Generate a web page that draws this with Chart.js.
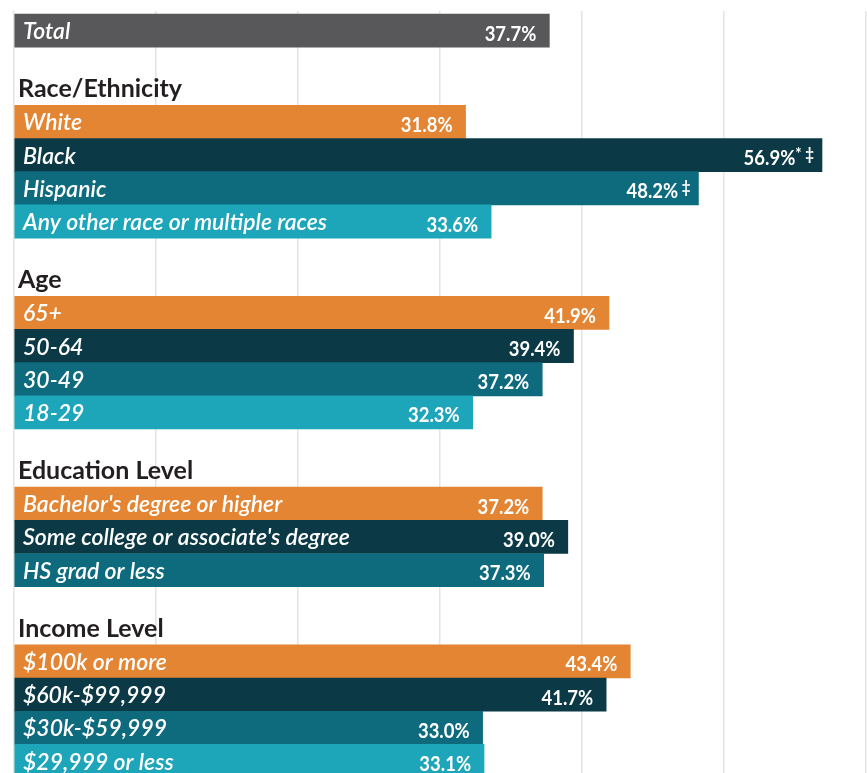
<!DOCTYPE html>
<html><head><meta charset="utf-8">
<script src="https://cdn.jsdelivr.net/npm/chart.js@4.4.1/dist/chart.umd.min.js"></script>
<style>html,body{margin:0;padding:0;background:#fff;}canvas{display:block}</style>
</head><body>
<canvas id="c" width="867" height="773"></canvas>
<script>
// ---- data ----
const groupTitles = ["", "Race/Ethnicity", "Age", "Education Level", "Income Level"];

const totalLabels = ["Total"];
const totalValues = [37.7];
const totalNotes  = [""];

const raceLabels = ["White", "Black", "Hispanic", "Any other race or multiple races"];
const raceValues = [31.8, 56.9, 48.2, 33.6];
const raceNotes  = ["", "* \u2021", " \u2021", ""];

const ageLabels = ["65+", "50-64", "30-49", "18-29"];
const ageValues = [41.9, 39.4, 37.2, 32.3];
const ageNotes  = ["", "", "", ""];

const eduLabels = ["Bachelor's degree or higher", "Some college or associate's degree", "HS grad or less"];
const eduValues = [37.2, 39.0, 37.3];
const eduNotes  = ["", "", ""];

const incomeLabels = ["$100k or more", "$60k-$99,999", "$30k-$59,999", "$29,999 or less"];
const incomeValues = [43.4, 41.7, 33.0, 33.1];
const incomeNotes  = ["", "", "", ""];

// ---- styles ----
const TOTAL_COLOR = "#58585a";
const PALETTE = ["#e38533", "#0b3945", "#0e6a7d", "#1da5b9"];
const GROUP_GAP = 1.75;
const HEADER_FONT = "bold 25px Lato";
const LABEL_FONT = "italic 600 23px Lato";
const VALUE_FONT = "bold 21px Lato";
const NOTE_FONT = "bold 17px Lato";
const VALUE_SCALE = 0.88;

const groups = [
  {labels: totalLabels, values: totalValues, notes: totalNotes},
  {labels: raceLabels, values: raceValues, notes: raceNotes},
  {labels: ageLabels, values: ageValues, notes: ageNotes},
  {labels: eduLabels, values: eduValues, notes: eduNotes},
  {labels: incomeLabels, values: incomeValues, notes: incomeNotes}
];

const points = [], colors = [], rowInfo = [];
let pos = 0;
groups.forEach((g, gi) => {
  if (gi > 0) pos += GROUP_GAP;
  g.labels.forEach((lab, i) => {
    points.push({x: g.values[i], y: pos});
    colors.push(gi === 0 ? TOTAL_COLOR : PALETTE[i]);
    rowInfo.push({label: lab, value: g.values[i], note: g.notes[i], group: gi, first: i === 0});
    pos += 1;
  });
});

function drawScaled(ctx, text, xRight, y, font, sx) {
  ctx.save();
  ctx.font = font;
  ctx.textAlign = 'right';
  ctx.translate(xRight, y);
  ctx.scale(sx, 1);
  ctx.fillText(text, 0, 0);
  const w = ctx.measureText(text).width * sx;
  ctx.restore();
  return w;
}

const labelPlugin = {
  id: 'barLabels',
  afterDatasetsDraw(chart) {
    const ctx = chart.ctx;
    const meta = chart.getDatasetMeta(0);
    const left = chart.chartArea.left;
    ctx.save();
    meta.data.forEach((bar, i) => {
      const info = rowInfo[i];
      const p = bar.getProps(['x', 'y', 'base', 'height'], true);
      const top = p.y - p.height / 2;
      ctx.textBaseline = 'alphabetic';
      if (info.first && groupTitles[info.group]) {
        ctx.font = HEADER_FONT;
        ctx.fillStyle = '#231f20';
        ctx.textAlign = 'left';
        ctx.fillText(groupTitles[info.group], left + 4, top - 8);
      }
      ctx.fillStyle = '#ffffff';
      ctx.font = LABEL_FONT;
      ctx.textAlign = 'left';
      ctx.fillText(info.label, left + 9, p.y + 8.5);
      const txt = info.value.toFixed(1) + '%';
      if (info.note) {
        const nw = drawScaled(ctx, info.note, p.x - 8, p.y + 5, NOTE_FONT, VALUE_SCALE);
        drawScaled(ctx, txt, p.x - 8 - nw, p.y + 10, VALUE_FONT, VALUE_SCALE);
      } else {
        drawScaled(ctx, txt, p.x - 13, p.y + 10, VALUE_FONT, VALUE_SCALE);
      }
    });
    ctx.restore();
  }
};

new Chart(document.getElementById('c'), {
  type: 'bar',
  data: {
    datasets: [{
      data: points,
      backgroundColor: colors,
      borderWidth: 0,
      barPercentage: 1,
      categoryPercentage: 1
    }]
  },
  options: {
    indexAxis: 'y',
    responsive: false,
    animation: false,
    devicePixelRatio: 1,
    layout: {padding: {left: 14, right: 1, top: 11, bottom: 0}},
    plugins: {legend: {display: false}, tooltip: {enabled: false}},
    scales: {
      x: {
        type: 'linear', min: 0, max: 60,
        ticks: {display: false, stepSize: 10},
        grid: {color: '#e4e4e4', lineWidth: 1.5, drawTicks: false},
        border: {display: false}
      },
      y: {
        type: 'linear', reverse: true, min: -0.59, max: 22.36,
        offset: false, grace: 0, bounds: 'data',
        display: false,
        afterBuildTicks: (scale) => { scale.ticks = []; }
      }
    }
  },
  plugins: [labelPlugin]
});
</script>
</body></html>
